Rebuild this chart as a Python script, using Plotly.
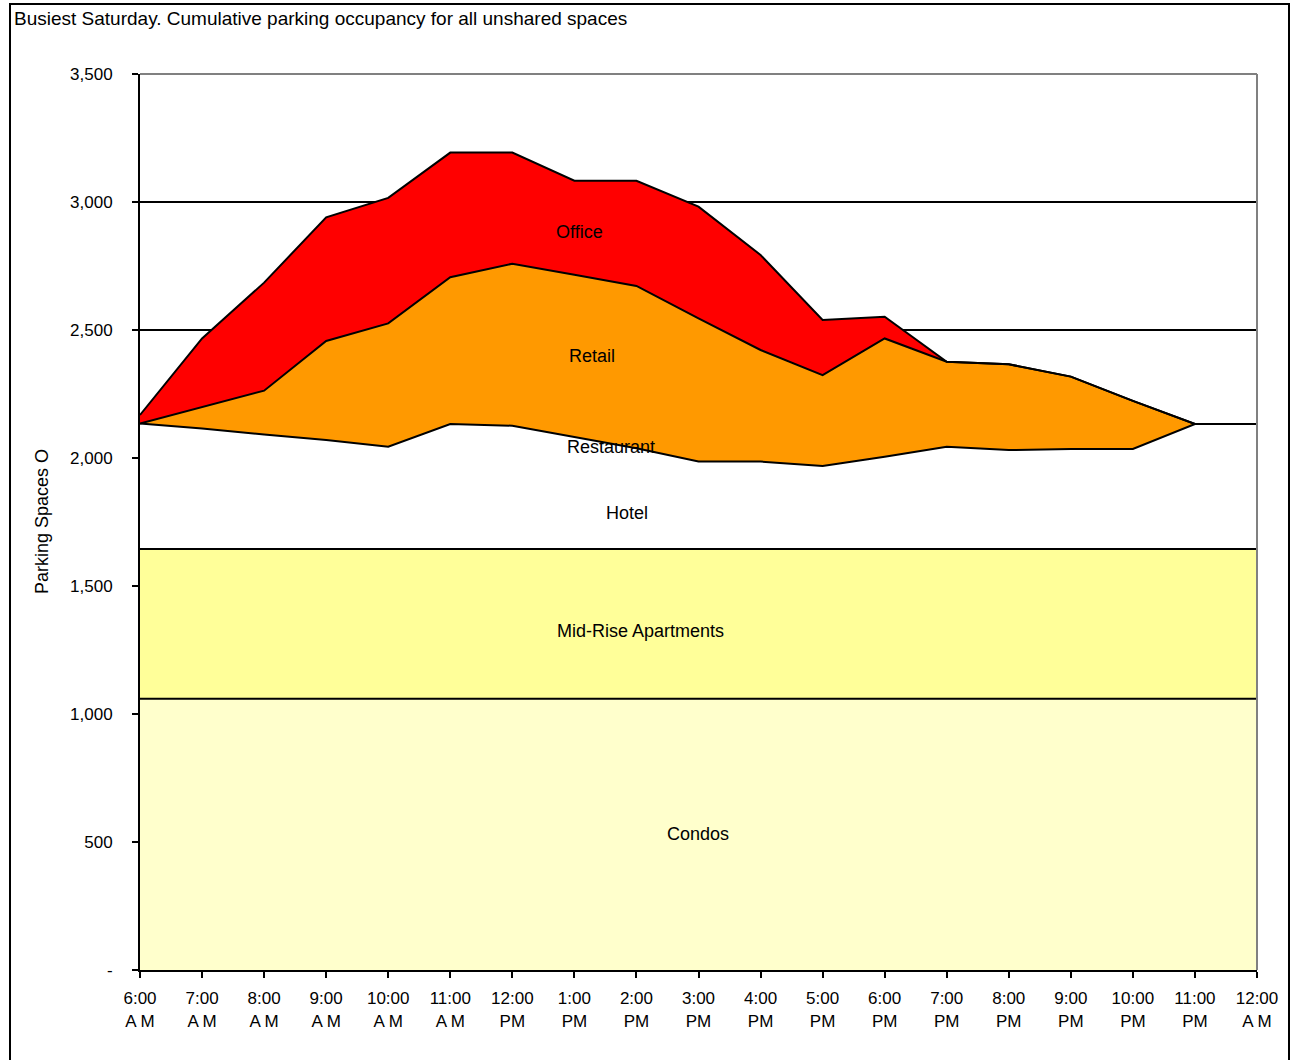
import plotly.graph_objects as go

times = ["6:00<br>A M", "7:00<br>A M", "8:00<br>A M", "9:00<br>A M", "10:00<br>A M", "11:00<br>A M",
         "12:00<br>PM", "1:00<br>PM", "2:00<br>PM", "3:00<br>PM", "4:00<br>PM", "5:00<br>PM",
         "6:00<br>PM", "7:00<br>PM", "8:00<br>PM", "9:00<br>PM", "10:00<br>PM", "11:00<br>PM", "12:00<br>A M"]

condos = [1060] * 19
midrise = [585] * 19
hotel = [490, 470, 447, 425, 399, 488, 481, 438, 393, 341, 341, 324, 360, 399, 386, 390, 390, 488, 488]
retail = [0, 85, 171, 387, 482, 573, 633, 633, 634, 559, 436, 355, 462, 332, 335, 283, 188, 0, 0]
office = [33, 267, 422, 483, 490, 487, 434, 367, 411, 437, 371, 215, 85, 0, 0, 0, 0, 0, 0]

y_ticks = [0, 500, 1000, 1500, 2000, 2500, 3000, 3500]
y_ticktext = ["-", "500", "1,000", "1,500", "2,000", "2,500", "3,000", "3,500"]

series = [
    ("Condos", condos, "#FFFFCC"),
    ("Mid-Rise Apartments", midrise, "#FFFF99"),
    ("Hotel", hotel, "#FFFFFF"),
    ("Retail", retail, "#FF9900"),
    ("Office", office, "#FF0000"),
]

xs = list(range(len(times)))
fig = go.Figure()
for name, vals, col in series:
    fig.add_trace(go.Scatter(
        x=xs, y=vals, name=name, mode="lines", stackgroup="one",
        line=dict(color="black", width=2), fillcolor=col, hoverinfo="skip"))

FONT = "Liberation Sans, Arial, sans-serif"
labels = [
    ("Office", 7.09, 2883),
    ("Retail", 7.28, 2398),
    ("Restaurant", 7.59, 2043),
    ("Hotel", 7.85, 1785),
    ("Mid-Rise Apartments", 8.07, 1324),
    ("Condos", 8.99, 531),
]
for t, x, y in labels:
    fig.add_annotation(x=x, y=y, text=t, showarrow=False,
                       font=dict(family=FONT, size=18, color="black"))

fig.add_annotation(xref="paper", yref="paper", x=(42 - 140) / 1117, y=0.5, text="Parking Spaces O",
                   textangle=-90, showarrow=False, xanchor="center", yanchor="middle",
                   font=dict(family=FONT, size=18, color="black"))

fig.add_annotation(xref="paper", yref="paper", x=(12 - 140) / 1117, y=(970 - 19) / 896,
                   xanchor="left", yanchor="middle",
                   text="Busiest Saturday. Cumulative parking occupancy for all unshared spaces",
                   showarrow=False, font=dict(family=FONT, size=19, color="black"))

# outer chart frame
fig.add_shape(type="rect", xref="paper", yref="paper",
              x0=(10 - 140) / 1117, x1=(1289 - 140) / 1117,
              y0=(970 - 1070) / 896, y1=(970 - 4) / 896,
              line=dict(color="black", width=2), layer="above")
# grey top/right edge of plot area
fig.add_shape(type="line", xref="paper", yref="paper", x0=0, x1=1, y0=1, y1=1,
              line=dict(color="#808080", width=2), layer="above")
fig.add_shape(type="line", xref="paper", yref="paper", x0=1, x1=1, y0=0, y1=1,
              line=dict(color="#808080", width=2), layer="above")

fig.update_layout(
    width=1291, height=1060,
    margin=dict(l=140, r=34, t=74, b=90),
    paper_bgcolor="white", plot_bgcolor="white",
    showlegend=False,
    font=dict(family=FONT, size=17, color="black"),
)
fig.update_xaxes(range=[0, 18], tickmode="array", tickvals=xs, ticktext=times,
                 showgrid=False, zeroline=False, showline=True, linecolor="black", linewidth=2,
                 ticks="outside", ticklen=6, tickcolor="black", tickwidth=2,
                 ticklabelstandoff=6,
                 tickfont=dict(family=FONT, size=17, color="black"))
fig.update_yaxes(range=[0, 3500], tickmode="array", tickvals=y_ticks, ticktext=y_ticktext,
                 showgrid=True, gridcolor="black", gridwidth=2, zeroline=False,
                 showline=True, linecolor="black", linewidth=2,
                 ticks="outside", ticklen=6, tickcolor="black", tickwidth=2,
                 ticklabelstandoff=16,
                 tickfont=dict(family=FONT, size=17, color="black"))

fig.write_html("out.html", config={"displayModeBar": False},
               post_script="document.body.style.margin='0';document.body.style.overflow='hidden';")
